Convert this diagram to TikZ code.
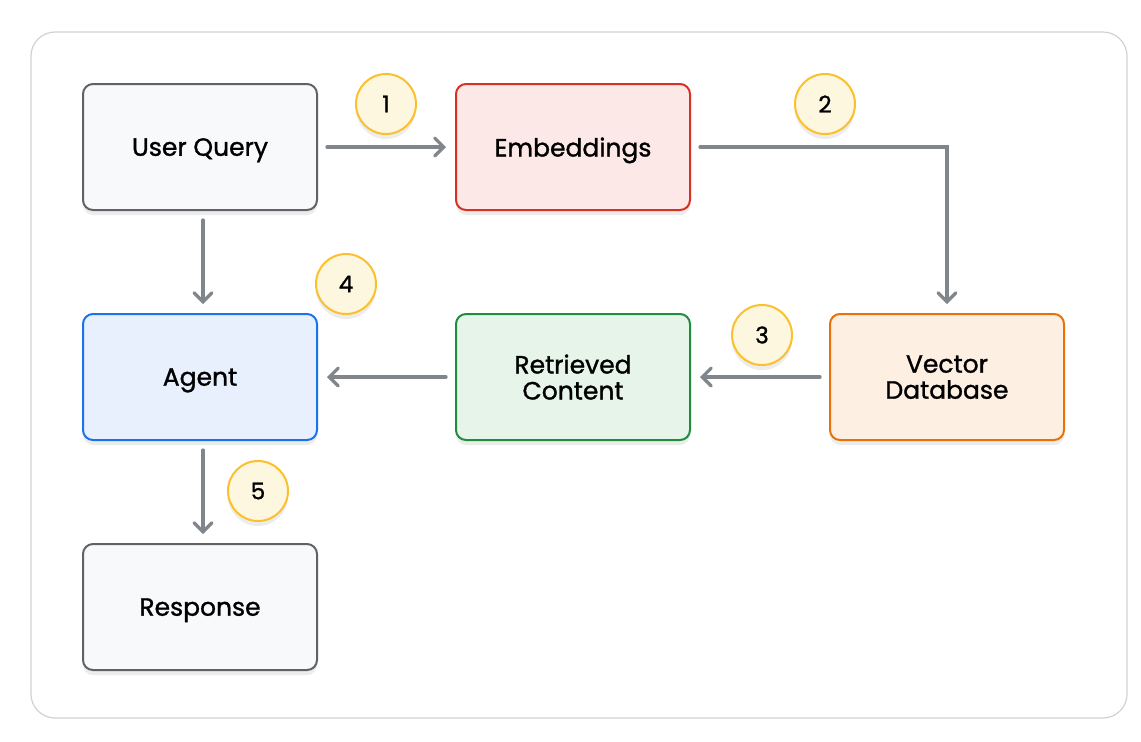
\documentclass[tikz,border=0pt]{standalone}
\usepackage{fontspec}
\setmainfont{Poppins}[FakeBold=1.2]
\usetikzlibrary{arrows.meta}
\usetikzlibrary{shadows}

\definecolor{arrowGray}{HTML}{80868B}
\definecolor{frameGray}{HTML}{D0D2D5}
\definecolor{boxGray}{HTML}{5F6368}
\definecolor{fillGray}{HTML}{F8F9FA}
\definecolor{boxRed}{HTML}{D93025}
\definecolor{fillRed}{HTML}{FCE8E6}
\definecolor{boxBlue}{HTML}{1A73E8}
\definecolor{fillBlue}{HTML}{E8F0FE}
\definecolor{boxGreen}{HTML}{1E8E3E}
\definecolor{fillGreen}{HTML}{E6F4EA}
\definecolor{boxOrange}{HTML}{E8710A}
\definecolor{fillOrange}{HTML}{FEEFE3}
\definecolor{stepYellow}{HTML}{FBC02D}
\definecolor{fillYellow}{HTML}{FEF7E0}

\begin{document}
\begin{tikzpicture}
[x=0.5pt,y=-0.5pt,%
  lineDecorate/.style={-{Straight Barb[length=4.5pt,width=9pt,line cap=round]},line width=1.6pt,draw=arrowGray,line cap=round,shorten <=4.5pt,shorten >=4.5pt},%
  boxDecorate/.style={rectangle,rounded corners=5pt,line width=1pt,minimum width=117pt,minimum height=63pt,align=center,text depth=0pt,font=\fontsize{12.5}{13}\selectfont,drop shadow={shadow xshift=0pt,shadow yshift=-2.5pt,opacity=0.15}},%
  stepDecorate/.style={circle,minimum size=30pt,inner sep=0pt,line width=1pt,draw=stepYellow,fill=fillYellow,font=\fontsize{11.5}{11.5}\selectfont,drop shadow={shadow xshift=0pt,shadow yshift=-2.5pt,opacity=0.15}}]
%% frame
\useasboundingbox (0,0) rectangle (1141,741);
\fill[white] (0,0) rectangle (1141,741);
\draw[frameGray,line width=0.6pt,rounded corners=12pt] (31,32) rectangle (1127,718);
%% boxes
\node[boxDecorate,draw=boxGray,fill=fillGray] (query) at (200,147) {User Query};
\node[boxDecorate,draw=boxRed,fill=fillRed] (embed) at (573,147) {Embeddings};
\node[boxDecorate,draw=boxBlue,fill=fillBlue] (agent) at (200,377) {Agent};
\node[boxDecorate,draw=boxGreen,fill=fillGreen] (content) at (573,377) {Retrieved\\Content};
\node[boxDecorate,draw=boxOrange,fill=fillOrange] (vectordb) at (947,377) {Vector\\Database};
\node[boxDecorate,draw=boxGray,fill=fillGray] (response) at (200,607) {Response};
%% numbered steps
\foreach \nodename/\x/\y/\num in {
  step1/386/104/1, step2/825/104/2, step3/762/335/3,
  step4/346/284/4, step5/258/491/5}
{
  \node[stepDecorate] (\nodename) at (\x,\y) {\num};
}
%% connect boxes
\draw[lineDecorate] (query.east) -- (embed.west);
\draw[lineDecorate] (embed.east) -| (vectordb.north);
\draw[lineDecorate] (vectordb.west) -- (content.east);
\draw[lineDecorate] (content.west) -- (agent.east);
\draw[lineDecorate] ([xshift=1.5pt]query.south) -- ([xshift=1.5pt]agent.north);
\draw[lineDecorate] ([xshift=1.5pt]agent.south) -- ([xshift=1.5pt]response.north);
\end{tikzpicture}
\end{document}
